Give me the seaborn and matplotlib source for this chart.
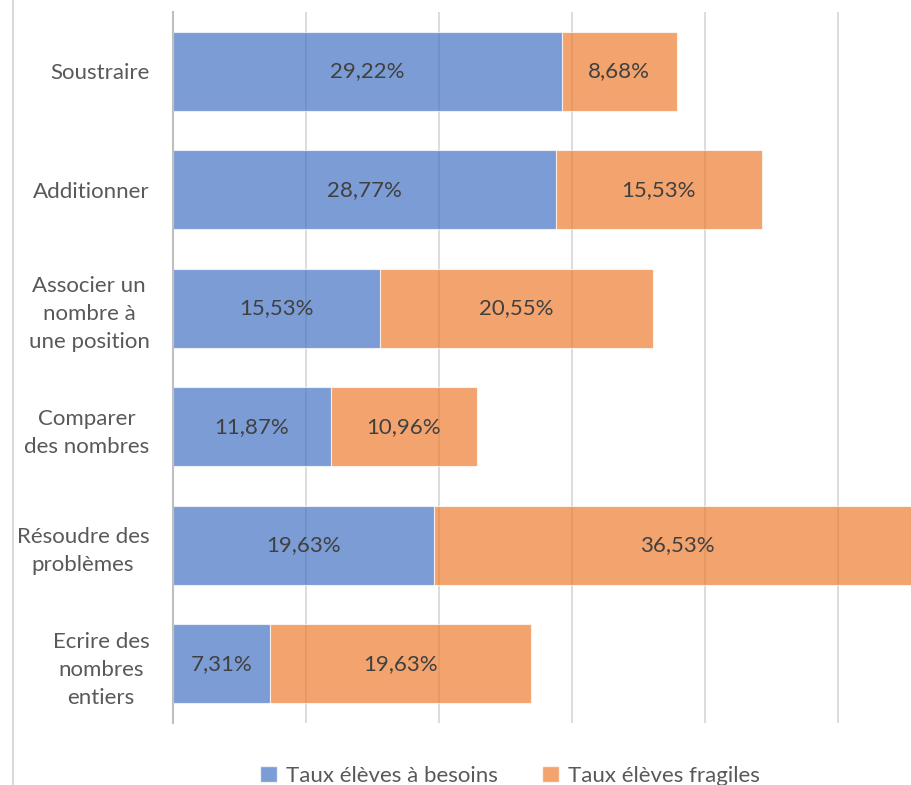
import matplotlib
matplotlib.use("Agg")
import matplotlib.pyplot as plt
import seaborn as sns
import pandas as pd
from matplotlib.lines import Line2D
from matplotlib.patches import Patch

# Données
competences = ["Soustraire", "Additionner", "Associer un\nnombre à\nune position",
               "Comparer\ndes nombres", "Résoudre des\nproblèmes",
               "Ecrire des\nnombres\nentiers"]
besoins = [29.22, 28.77, 15.53, 11.87, 19.63, 7.31]
fragiles = [8.68, 15.53, 20.55, 10.96, 36.53, 19.63]

df = pd.DataFrame({"Competence": competences, "besoins": besoins, "fragiles": fragiles})

sns.set_theme(style="white")
plt.rcParams['font.family'] = ['Lato', 'DejaVu Sans']

bleu = "#4472C4"
orange = "#ED7D31"
gris_txt = "#595959"
taille = 16

fig = plt.figure(figsize=(9.12, 7.85), dpi=100)
ax = fig.add_axes([173/912, 1-723/785, (971-173)/912, (723-12)/785])

# grille verticale derrière les barres
for xg in [10, 20, 30, 40, 50]:
    ax.axvline(xg, color="#d9d9d9", lw=1.3, zorder=0)

sns.barplot(data=df, y="Competence", x="besoins", orient="h", color=bleu, alpha=0.7,
            saturation=1, width=0.667, edgecolor="white", linewidth=0.8, ax=ax, zorder=2)
ax.barh(df["Competence"], df["fragiles"], left=df["besoins"], height=0.667,
        color=orange, alpha=0.7, edgecolor="white", linewidth=0.8, zorder=2)

fmt = lambda v: f"{v:.2f}".replace(".", ",") + "%"
ax.bar_label(ax.containers[0], labels=[fmt(v) for v in besoins], label_type="center",
             color="#404040", fontsize=taille)
ax.bar_label(ax.containers[1], labels=[fmt(v) for v in fragiles], label_type="center",
             color="#404040", fontsize=taille)

ax.set_xlim(0, 60)
ax.set_ylim(5.5, -0.5)
ax.set_xlabel("")
ax.set_ylabel("")
ax.set_xticks([])
for s in ["top", "right", "bottom"]:
    ax.spines[s].set_visible(False)
ax.spines["left"].set_color("#bfbfbf")
ax.spines["left"].set_linewidth(1.5)
ax.tick_params(axis="y", length=0, pad=17, labelsize=taille, labelcolor=gris_txt)
for t in ax.get_yticklabels():
    t.set_multialignment("center")
    t.set_linespacing(1.5)

# bordure gauche de la zone du graphique
fig.add_artist(Line2D([13/912, 13/912], [0, 1], transform=fig.transFigure,
                      color="#d9d9d9", lw=1.5))

handles = [Patch(facecolor=bleu, alpha=0.7, label="Taux élèves à besoins"),
           Patch(facecolor=orange, alpha=0.7, label="Taux élèves fragiles")]
fig.legend(handles=handles, loc="center", bbox_to_anchor=(510/912, 1-776/785), ncol=2,
           frameon=False, fontsize=taille, handlelength=0.75, handleheight=0.75,
           handletextpad=0.4, columnspacing=2.0, labelcolor=gris_txt)

fig.savefig("out.png", dpi=100)
